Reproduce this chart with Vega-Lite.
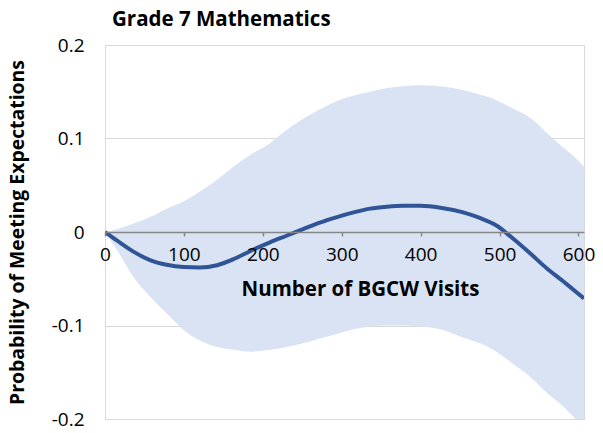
{
  "$schema": "https://vega.github.io/schema/vega-lite/v6.json",
  "autosize": {"type": "none"},
  "width": 479,
  "height": 374,
  "padding": {"left": 105, "top": 45, "right": 19, "bottom": 14},
  "background": "white",
  "title": {
    "text": "Grade 7 Mathematics",
    "anchor": "start",
    "frame": "group",
    "dx": 7,
    "offset": 6,
    "font": "Open Sans",
    "fontSize": 20.5,
    "fontWeight": "bold",
    "color": "#000000"
  },
  "config": {
    "view": {"stroke": "#d9d9d9", "strokeWidth": 1},
    "font": "Open Sans"
  },
  "data": {
    "values": [
      {"visits": 0, "est": 0, "lo": 0, "hi": 0},
      {"visits": 15, "est": -0.009, "lo": -0.019, "hi": 0.003},
      {"visits": 36, "est": -0.021, "lo": -0.048, "hi": 0.009},
      {"visits": 57, "est": -0.030, "lo": -0.069, "hi": 0.016},
      {"visits": 78, "est": -0.035, "lo": -0.087, "hi": 0.025},
      {"visits": 100, "est": -0.0375, "lo": -0.105, "hi": 0.033},
      {"visits": 120, "est": -0.038, "lo": -0.116, "hi": 0.043},
      {"visits": 142, "est": -0.0355, "lo": -0.123, "hi": 0.056},
      {"visits": 163, "est": -0.029, "lo": -0.126, "hi": 0.070},
      {"visits": 185, "est": -0.020, "lo": -0.128, "hi": 0.083},
      {"visits": 209, "est": -0.011, "lo": -0.126, "hi": 0.095},
      {"visits": 230, "est": -0.004, "lo": -0.123, "hi": 0.109},
      {"visits": 251, "est": 0.003, "lo": -0.119, "hi": 0.121},
      {"visits": 272, "est": 0.010, "lo": -0.114, "hi": 0.131},
      {"visits": 294, "est": 0.016, "lo": -0.109, "hi": 0.140},
      {"visits": 315, "est": 0.021, "lo": -0.104, "hi": 0.146},
      {"visits": 336, "est": 0.025, "lo": -0.101, "hi": 0.150},
      {"visits": 357, "est": 0.027, "lo": -0.100, "hi": 0.154},
      {"visits": 378, "est": 0.028, "lo": -0.100, "hi": 0.156},
      {"visits": 400, "est": 0.028, "lo": -0.101, "hi": 0.157},
      {"visits": 425, "est": 0.026, "lo": -0.104, "hi": 0.156},
      {"visits": 454, "est": 0.021, "lo": -0.113, "hi": 0.152},
      {"visits": 475, "est": 0.015, "lo": -0.119, "hi": 0.147},
      {"visits": 496, "est": 0.007, "lo": -0.128, "hi": 0.141},
      {"visits": 517, "est": -0.007, "lo": -0.141, "hi": 0.132},
      {"visits": 539, "est": -0.023, "lo": -0.155, "hi": 0.122},
      {"visits": 560, "est": -0.039, "lo": -0.172, "hi": 0.106},
      {"visits": 581, "est": -0.053, "lo": -0.187, "hi": 0.090},
      {"visits": 594, "est": -0.062, "lo": -0.198, "hi": 0.081},
      {"visits": 607, "est": -0.071, "lo": -0.212, "hi": 0.070}
    ]
  },
  "encoding": {
    "x": {
      "field": "visits",
      "type": "quantitative",
      "scale": {"domain": [0, 607], "nice": false, "zero": false},
      "axis": {
        "title": "Number of BGCW Visits",
        "values": [0, 100, 200, 300, 400, 500, 600],
        "offset": -187,
        "grid": false,
        "domainColor": "#868686",
        "domainWidth": 1.5,
        "tickColor": "#868686",
        "tickSize": 4,
        "tickWidth": 1.5,
        "labelFont": "Open Sans",
        "labelFontSize": 19,
        "labelColor": "#000000",
        "labelPadding": 9,
        "labelFlush": false,
        "labelOverlap": false,
        "titleFont": "Open Sans",
        "titleFontSize": 20.5,
        "titleFontWeight": "bold",
        "titleColor": "#000000",
        "titleX": 255,
        "titleY": 63,
        "titleAlign": "center",
        "titleBaseline": "alphabetic",
        "zindex": 2
      }
    }
  },
  "layer": [
    {
      "mark": {"type": "area", "color": "#dae3f3", "opacity": 1, "interpolate": "monotone", "clip": true},
      "encoding": {
        "y": {
          "field": "lo",
          "type": "quantitative",
          "scale": {"domain": [-0.2, 0.2], "nice": false},
          "axis": {
            "title": "Probability of Meeting Expectations",
            "values": [-0.2, -0.1, 0, 0.1, 0.2],
            "labelExpr": "datum.value < -0.0001 ? '-' + format(-datum.value, '.1f') : (datum.value > 0.0001 ? format(datum.value, '.1f') : '0')",
            "ticks": false,
            "domain": false,
            "grid": true,
            "gridColor": "#d9d9d9",
            "gridWidth": 1,
            "labelFont": "Open Sans",
            "labelFontSize": 19,
            "labelColor": "#000000",
            "labelPadding": 21,
            "titleFont": "Open Sans",
            "titleFontSize": 19.4,
            "titleFontWeight": "bold",
            "titleColor": "#000000",
            "titleAngle": -90,
            "titleX": -88,
            "titleY": 187,
            "titleAlign": "center",
            "titleBaseline": "middle"
          }
        },
        "y2": {"field": "hi"}
      }
    },
    {
      "mark": {"type": "line", "color": "#2f5597", "strokeWidth": 4, "interpolate": "monotone", "clip": true},
      "encoding": {
        "y": {"field": "est", "type": "quantitative"}
      }
    }
  ]
}
